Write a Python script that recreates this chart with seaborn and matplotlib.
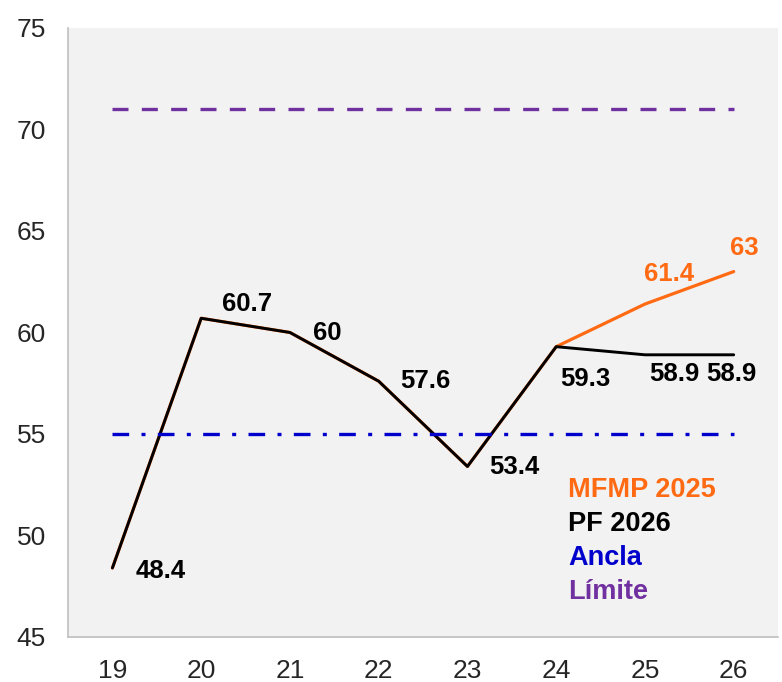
import pandas as pd
import seaborn as sns
import matplotlib.pyplot as plt

# chart data
years = [19, 20, 21, 22, 23, 24, 25, 26]
pf_2026 = [48.4, 60.7, 60.0, 57.6, 53.4, 59.3, 58.9, 58.9]
mfmp_2025 = [48.4, 60.7, 60.0, 57.6, 53.4, 59.3, 61.4, 63.0]
ancla = 55
limite = 71
pf_labels = ["48.4", "60.7", "60", "57.6", "53.4", "59.3", "58.9", "58.9"]
mfmp_labels = {25: "61.4", 26: "63"}
series_names = ["MFMP 2025", "PF 2026", "Ancla", "Límite"]

df = pd.DataFrame({"year": years, "PF 2026": pf_2026, "MFMP 2025": mfmp_2025,
                   "Ancla": [ancla] * len(years), "Límite": [limite] * len(years)})

sns.set_style("white")
plt.rcParams['font.family'] = ['Liberation Sans', 'DejaVu Sans']

orange = "#ff6a13"
blue = "#0000cc"
purple = "#7030a0"

fig = plt.figure(figsize=(7.82, 6.82), dpi=100)
ax = fig.add_axes([0.087, 0.066, 0.908, 0.893])
ax.set_facecolor("#f2f2f2")

sns.lineplot(data=df, x="year", y="MFMP 2025", color=orange, lw=2.3, ax=ax)
sns.lineplot(data=df, x="year", y="PF 2026", color="black", lw=2.1, ax=ax)
sns.lineplot(data=df, x="year", y="Ancla", color=blue, lw=2.4, ax=ax,
             linestyle=(0, (5.0, 3.7, 1.2, 3.7)))
sns.lineplot(data=df, x="year", y="Límite", color=purple, lw=2.4, ax=ax,
             linestyle=(0, (4.8, 4.0)))

# data labels (offsets in pixels)
offsets = [(23, -3), (21, 14), (23, -1), (22, 0), (22, -1), (29, -32), (29, -19), (-2, -19)]
has = ["left", "left", "left", "left", "left", "center", "center", "center"]
for x, y, t, off, ha in zip(years, pf_2026, pf_labels, offsets, has):
    ax.annotate(t, (x, y), xytext=off, textcoords="offset pixels", ha=ha, va="center",
                fontsize=18.5, fontweight="bold", color="black")
for (x, t), off in zip(mfmp_labels.items(), [(24, 30), (11, 24)]):
    y = mfmp_2025[years.index(x)]
    ax.annotate(t, (x, y), xytext=off, textcoords="offset pixels", ha="center", va="center",
                fontsize=18.5, fontweight="bold", color=orange)

ax.set_xlim(18.5, 26.5)
ax.set_ylim(45, 75)
ax.set_xticks(years)
ax.set_yticks(range(45, 76, 5))
ax.set_xlabel("")
ax.set_ylabel("")
ax.tick_params(axis="both", labelsize=19, length=0, pad=16)
for s in ["top", "right"]:
    ax.spines[s].set_visible(False)
for s in ["left", "bottom"]:
    ax.spines[s].set_color("#bfbfbf")
    ax.spines[s].set_linewidth(1.2)

# legend as coloured text
for i, (name, c) in enumerate(zip(series_names, [orange, "black", blue, purple])):
    ax.text(0.704, 0.241 - i * 0.0555, name, transform=ax.transAxes, ha="left", va="center",
            fontsize=19.5, fontweight="bold", color=c)

plt.savefig("out.png", dpi=100)
